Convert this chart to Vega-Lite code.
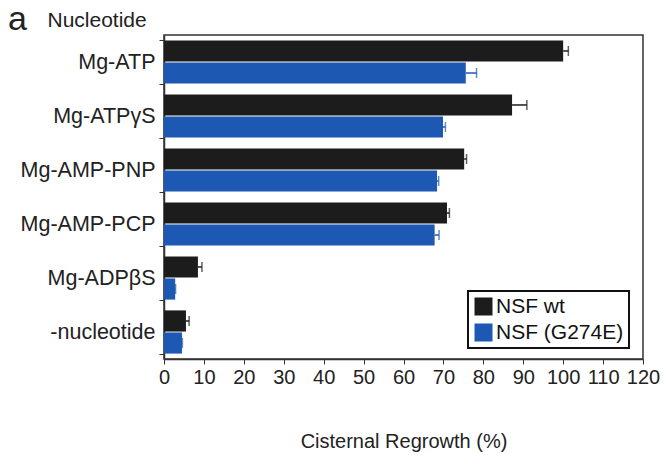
{
  "$schema": "https://vega.github.io/schema/vega-lite/v6.json",
  "width": 479,
  "height": 324,
  "autosize": {"type": "none"},
  "padding": {"left": 164, "top": 35, "right": 22, "bottom": 96},
  "title": {"text": "a", "anchor": "start", "frame": "group", "dx": -156, "dy": 60, "offset": 5, "baseline": "alphabetic", "fontSize": 34, "fontWeight": "normal", "font": "Liberation Sans", "color": "#222"},
  "config": {
    "view": {"stroke": "#333", "strokeWidth": 1.5},
    "font": "Liberation Sans",
    "axisX": {"tickCount": 12, "labelOverlap": false, "labelFlush": false, "labelBound": false, "grid": false}
  },
  "data": {
    "values": [
      {"nuc": "Mg-ATP", "series": "NSF wt", "value": 100, "hi": 101.3},
      {"nuc": "Mg-ATP", "series": "NSF (G274E)", "value": 75.6, "hi": 78.3},
      {"nuc": "Mg-ATPγS", "series": "NSF wt", "value": 87.2, "hi": 90.9},
      {"nuc": "Mg-ATPγS", "series": "NSF (G274E)", "value": 69.9, "hi": 70.5},
      {"nuc": "Mg-AMP-PNP", "series": "NSF wt", "value": 75.2, "hi": 75.8},
      {"nuc": "Mg-AMP-PNP", "series": "NSF (G274E)", "value": 68.4, "hi": 68.8},
      {"nuc": "Mg-AMP-PCP", "series": "NSF wt", "value": 70.9, "hi": 71.5},
      {"nuc": "Mg-AMP-PCP", "series": "NSF (G274E)", "value": 67.8, "hi": 68.9},
      {"nuc": "Mg-ADPβS", "series": "NSF wt", "value": 8.5, "hi": 9.5},
      {"nuc": "Mg-ADPβS", "series": "NSF (G274E)", "value": 2.8, "hi": 2.9},
      {"nuc": "-nucleotide", "series": "NSF wt", "value": 5.5, "hi": 6.3},
      {"nuc": "-nucleotide", "series": "NSF (G274E)", "value": 4.5, "hi": 4.6}
    ]
  },
  "encoding": {
    "y": {
      "field": "nuc", "type": "nominal",
      "sort": ["Mg-ATP", "Mg-ATPγS", "Mg-AMP-PNP", "Mg-AMP-PCP", "Mg-ADPβS", "-nucleotide"],
      "scale": {"paddingInner": 0.2, "paddingOuter": 0.1},
      "axis": {
        "title": "Nucleotide", "titleAngle": 0, "titleAlign": "left", "titleBaseline": "alphabetic",
        "titleX": -117, "titleY": -9, "titleFontSize": 21, "titleFontWeight": "normal", "titleColor": "#222",
        "labelFontSize": 21.5, "labelColor": "#222", "labelPadding": 4,
        "tickBand": "extent", "tickSize": 5, "tickColor": "#333", "domainColor": "#333", "domainWidth": 1.5
      }
    },
    "x": {
      "field": "value", "type": "quantitative",
      "scale": {"domain": [0, 120], "nice": false},
      "axis": {
        "tickSize": 5, "tickColor": "#333", "domainColor": "#333", "domainWidth": 1.5,
        "labelFontSize": 20, "labelColor": "#222", "labelPadding": 3,
        "title": "Cisternal Regrowth (%)", "titleFontSize": 20, "titleFontWeight": "normal", "titleColor": "#222",
        "titleBaseline": "alphabetic", "titleY": 88
      }
    },
    "yOffset": {"field": "series", "type": "nominal", "sort": ["NSF wt", "NSF (G274E)"], "scale": {"paddingInner": 0.04}},
    "color": {
      "field": "series", "type": "nominal", "sort": ["NSF wt", "NSF (G274E)"],
      "scale": {"domain": ["NSF wt", "NSF (G274E)"], "range": ["#1c1c1c", "#1d58b3"]},
      "legend": {
        "title": null, "orient": "none", "legendX": 304, "legendY": 256,
        "symbolType": "square", "symbolSize": 324, "symbolStrokeWidth": 0, "symbolOpacity": 1,
        "labelFontSize": 21, "labelColor": "#111", "labelOffset": 2, "rowPadding": 4,
        "strokeColor": "#111", "padding": 5,
        "encode": {"legend": {"update": {"strokeWidth": {"value": 2}}}}
      }
    }
  },
  "layer": [
    {
      "mark": {"type": "bar"}
    },
    {
      "mark": {"type": "rule", "strokeWidth": 1.5},
      "encoding": {
        "x2": {"field": "hi"}
      }
    },
    {
      "mark": {"type": "tick", "size": 10, "thickness": 1.5},
      "encoding": {
        "x": {"field": "hi", "type": "quantitative"}
      }
    }
  ]
}
